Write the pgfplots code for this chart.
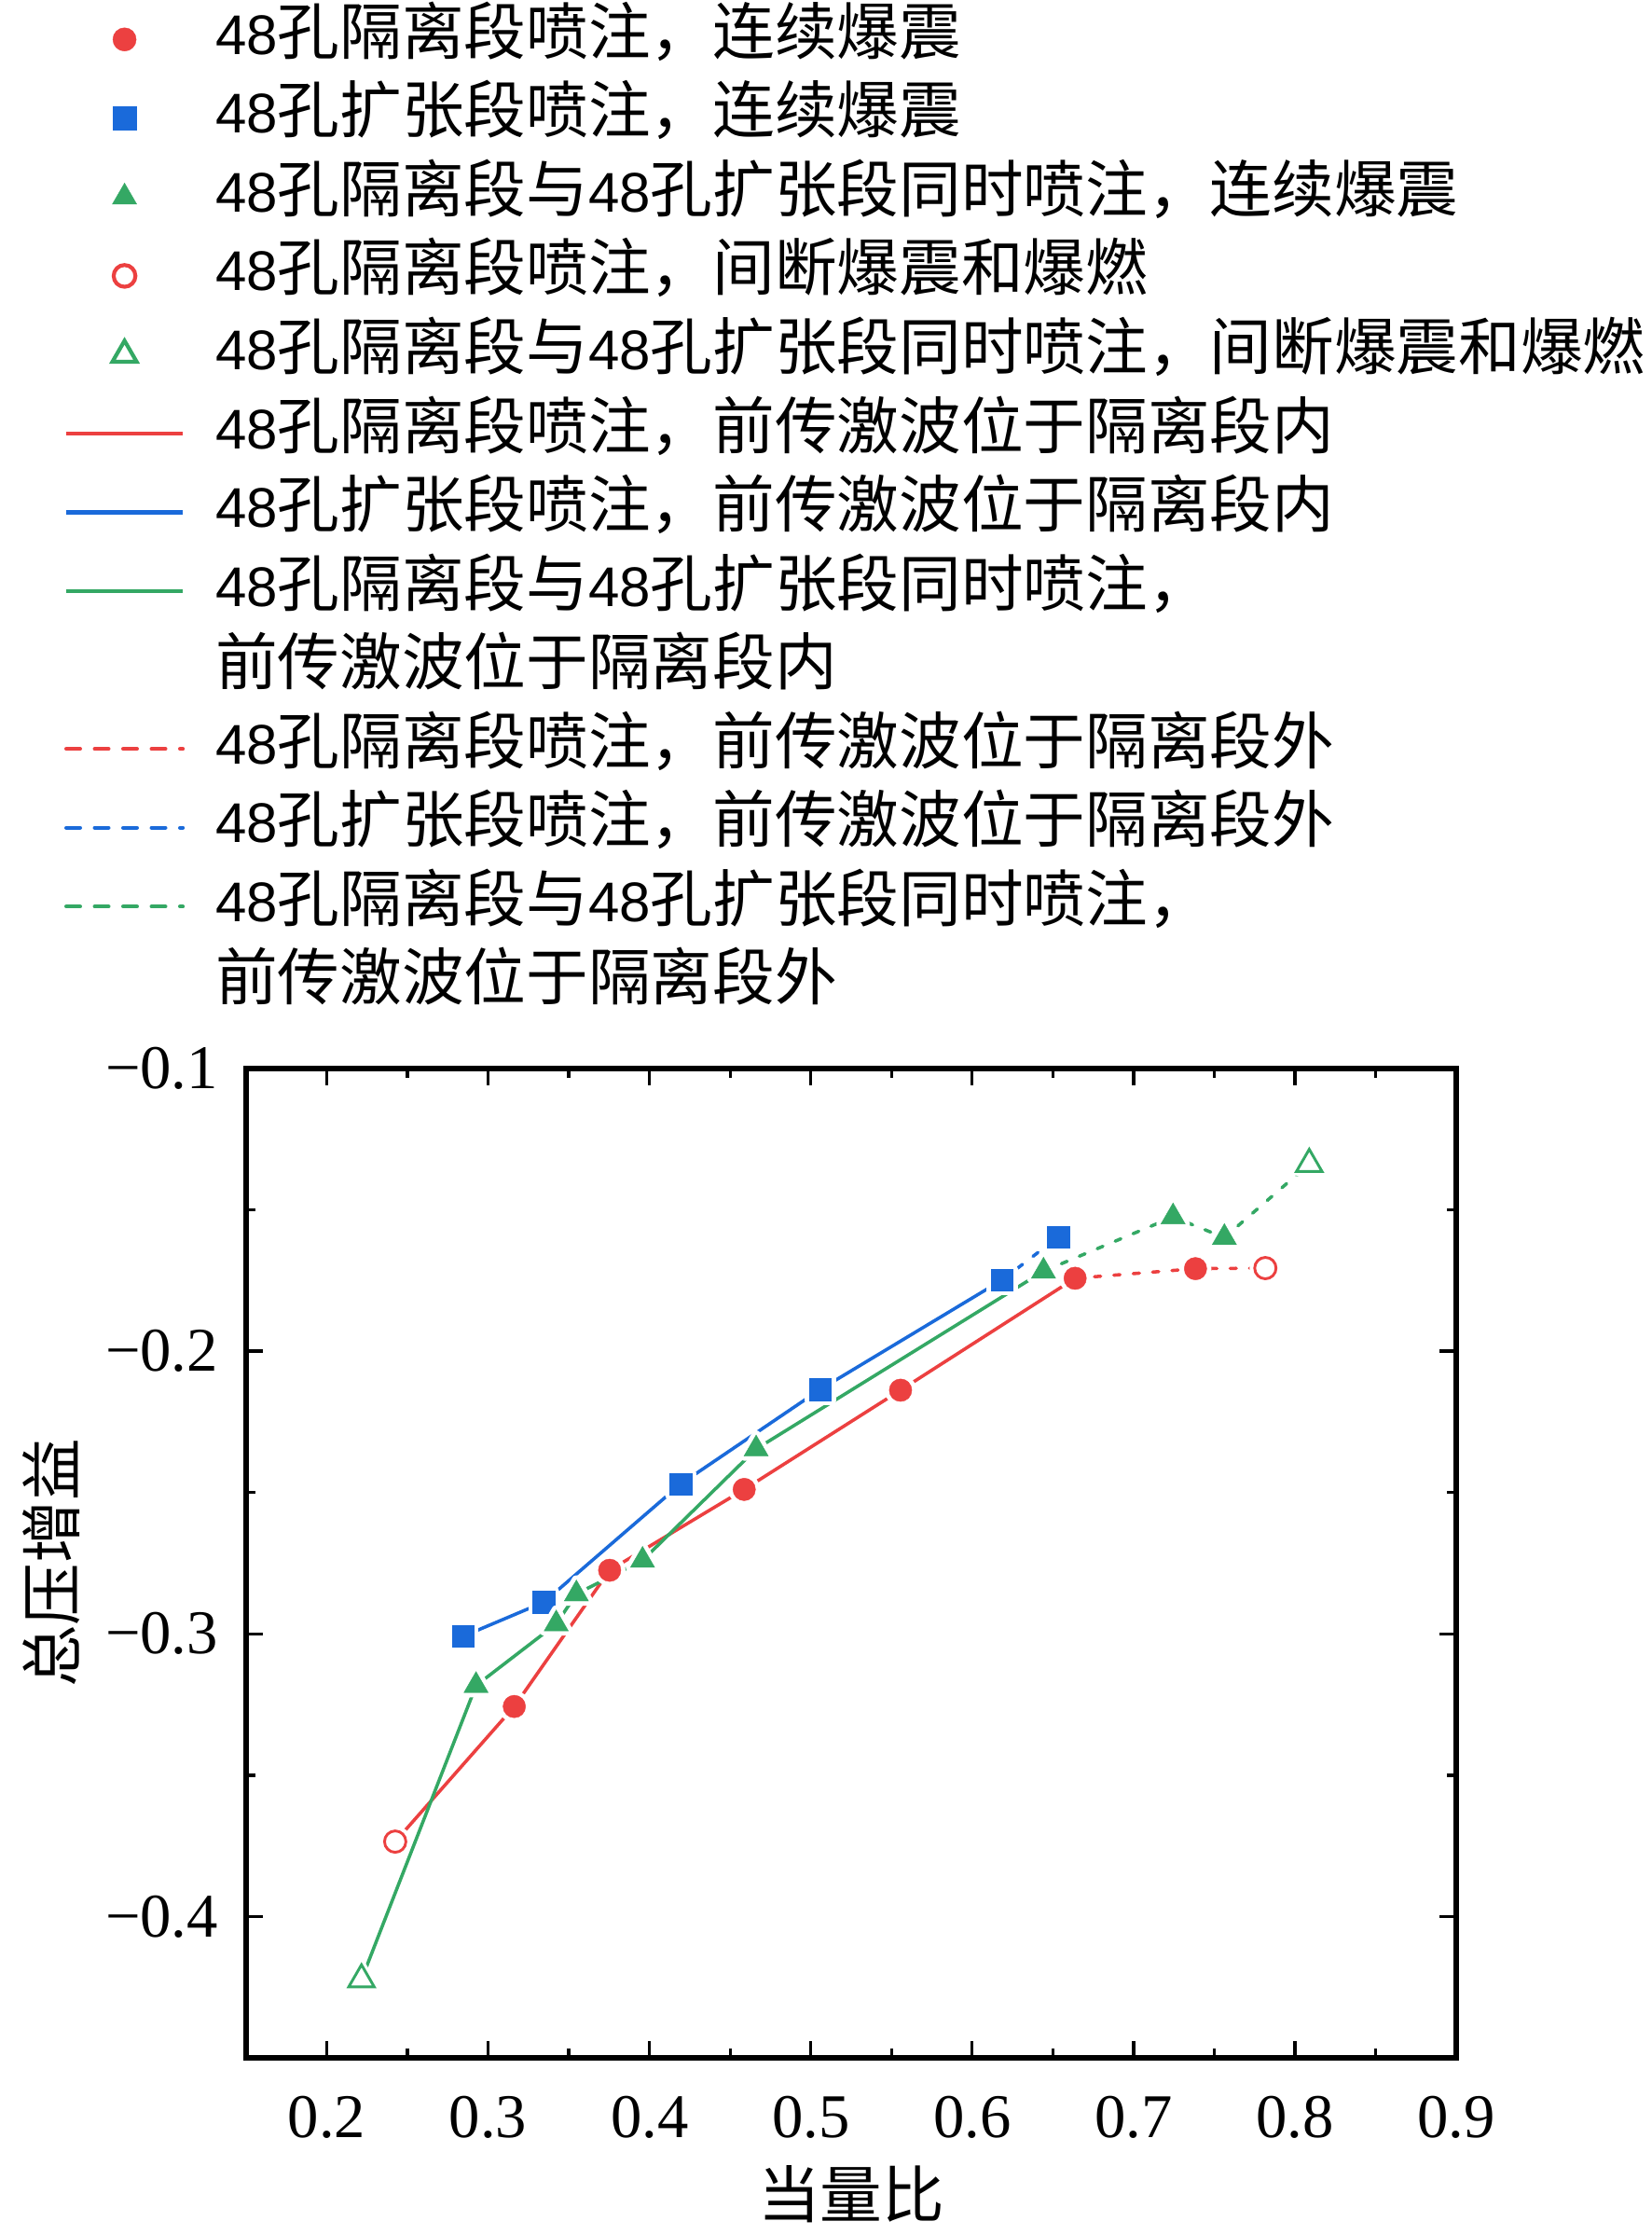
\documentclass[border=0pt]{standalone}
\usepackage{fontspec}
\setmainfont{Liberation Serif}
\newfontfamily\cjk{Noto Sans CJK SC}
\newfontfamily\dig[Scale=0.9]{Liberation Sans}
\newcommand\zh[1]{{\cjk #1}}
\newcommand\ff{{\dig 48}}
\usepackage{pgfplots}
\pgfplotsset{compat=1.18}
\definecolor{cred}{RGB}{236,64,64}
\definecolor{cblue}{RGB}{26,106,218}
\definecolor{cgreen}{RGB}{52,168,100}
\newcommand\fs{\fontsize{16pt}{19pt}\selectfont}
\pgfplotsset{halo/.style={only marks, forget plot, white, mark options={draw=white, fill=white, line width=2.4pt, line join=round, solid}}}
\begin{document}
\fs
\begin{tikzpicture}
\path[use as bounding box] (-63.36pt,-45.6pt) rectangle (361.92pt,529.68pt);
\begin{axis}[
  scale only axis, width=311.52pt, height=254.64pt,
  xmin=0.15, xmax=0.9, ymin=-0.45, ymax=-0.1,
  xtick={0.2,0.3,0.4,0.5,0.6,0.7,0.8,0.9},
  xticklabels={0.2,0.3,0.4,0.5,0.6,0.7,0.8,0.9},
  ytick={-0.4,-0.3,-0.2,-0.1},
  yticklabels={−0.4,−0.3,−0.2,−0.1},
  minor x tick num=1, minor y tick num=1,
  tick align=inside,
  major tick length=4.4pt, minor tick length=2.3pt,
  every tick/.style={black, line width=0.8pt},
  axis line style={line width=1.3pt},
  tick label style={font=\fs},
  label style={font=\fs},
  xticklabel style={inner sep=0pt, yshift=-9.6pt},
  yticklabel style={inner sep=0pt, xshift=-7.0pt},
  xlabel={\zh{当量比}}, ylabel={\zh{总压增益}},
  xlabel style={at={(axis description cs:0.5,-0.1621)}, anchor=base, inner sep=0pt},
  ylabel style={at={(axis description cs:-0.161,0.5)}, anchor=center, inner sep=0pt},
  legend style={at={(axis description cs:-0.15023,2.0801)}, anchor=north west,
    draw=none, fill=none, inner sep=0pt, outer sep=0pt, row sep=0pt, column sep=7.9pt,
    font=\fs\cjk, nodes={inner sep=0pt, text height=14pt, text depth=6.29pt}},
  legend cell align=left,
  legend image code/.code={\draw[mark repeat=2,mark phase=2,#1] plot coordinates {(0pt,0pt)(15pt,0pt)(30pt,0pt)};},
]
% ---- lines ----
\addplot[cred, line width=0.85pt, forget plot] coordinates {
 (0.2424,-0.3735) (0.3162,-0.3257) (0.3753,-0.2775) (0.4587,-0.2489) (0.5556,-0.2138) (0.6638,-0.1742)};
\addplot[cred, line width=0.85pt, dash pattern=on 1.6pt off 3.4pt, line cap=round, forget plot] coordinates {
 (0.6638,-0.1742) (0.7384,-0.1708) (0.7817,-0.1706)};
\addplot[cblue, line width=0.85pt, forget plot] coordinates {
 (0.2844,-0.3009) (0.3345,-0.2888) (0.4193,-0.2470) (0.5059,-0.2135) (0.6186,-0.1748)};
\addplot[cblue, line width=0.85pt, dash pattern=on 1.6pt off 3.4pt, line cap=round, forget plot] coordinates {
 (0.6186,-0.1748) (0.6533,-0.1596)};
\addplot[cgreen, line width=0.85pt, forget plot] coordinates {
 (0.2215,-0.4223) (0.2925,-0.3183) (0.3422,-0.2965) (0.3547,-0.2859) (0.3957,-0.2740) (0.4661,-0.2346) (0.6442,-0.1717)};
\addplot[cgreen, line width=0.85pt, dash pattern=on 1.6pt off 3.4pt, line cap=round, forget plot] coordinates {
 (0.6442,-0.1717) (0.7245,-0.1525) (0.7563,-0.1598) (0.8089,-0.1338)};
% ---- red marks ----
\addplot[halo, mark=*, mark size=2.9pt] coordinates {
 (0.2424,-0.3735) (0.3162,-0.3257) (0.3753,-0.2775) (0.4587,-0.2489) (0.5556,-0.2138) (0.6638,-0.1742) (0.7384,-0.1708) (0.7817,-0.1706)};
\addplot[only marks, forget plot, mark=*, mark size=2.9pt, cred, mark options={fill=cred, line width=0.1pt}] coordinates {
 (0.3162,-0.3257) (0.3753,-0.2775) (0.4587,-0.2489) (0.5556,-0.2138) (0.6638,-0.1742) (0.7384,-0.1708)};
\addplot[only marks, forget plot, mark=*, mark size=2.75pt, cred, mark options={fill=white, line width=0.7pt}] coordinates {
 (0.2424,-0.3735) (0.7817,-0.1706)};
% ---- blue marks ----
\addplot[halo, mark=square*, mark size=2.8pt] coordinates {
 (0.2844,-0.3009) (0.3345,-0.2888) (0.4193,-0.2470) (0.5059,-0.2135) (0.6186,-0.1748) (0.6533,-0.1596)};
\addplot[only marks, forget plot, mark=square*, mark size=2.8pt, cblue, mark options={fill=cblue, line width=0.1pt}] coordinates {
 (0.2844,-0.3009) (0.3345,-0.2888) (0.4193,-0.2470) (0.5059,-0.2135) (0.6186,-0.1748) (0.6533,-0.1596)};
% ---- green marks ----
\addplot[halo, mark=triangle*, mark size=3.6pt] coordinates {
 (0.2215,-0.4223) (0.2925,-0.3183) (0.3422,-0.2965) (0.3547,-0.2859) (0.3957,-0.2740) (0.4661,-0.2346) (0.6442,-0.1717) (0.7245,-0.1525) (0.7563,-0.1598) (0.8089,-0.1338)};
\addplot[only marks, forget plot, mark=triangle*, mark size=3.6pt, cgreen, mark options={fill=cgreen, line width=0.1pt}] coordinates {
 (0.2925,-0.3183) (0.3422,-0.2965) (0.3547,-0.2859) (0.3957,-0.2740) (0.4661,-0.2346) (0.6442,-0.1717) (0.7245,-0.1525) (0.7563,-0.1598)};
\addplot[only marks, forget plot, mark=triangle*, mark size=3.8pt, cgreen, mark options={fill=white, line width=0.7pt}] coordinates {
 (0.2215,-0.4223) (0.8089,-0.1338)};
% ---- legend ----
\addlegendimage{only marks, mark=*, mark size=3pt, cred, mark options={fill=cred, line width=0.1pt}}
\addlegendentry{\ff 孔隔离段喷注，连续爆震}
\addlegendimage{only marks, mark=square*, mark size=3pt, cblue, mark options={fill=cblue, line width=0.1pt}}
\addlegendentry{\ff 孔扩张段喷注，连续爆震}
\addlegendimage{only marks, mark=triangle*, mark size=3.6pt, cgreen, mark options={fill=cgreen, line width=0.1pt}}
\addlegendentry{\ff 孔隔离段与\ff 孔扩张段同时喷注，连续爆震}
\addlegendimage{only marks, mark=*, mark size=2.8pt, cred, mark options={fill=white, line width=1pt}}
\addlegendentry{\ff 孔隔离段喷注，间断爆震和爆燃}
\addlegendimage{only marks, mark=triangle*, mark size=3.6pt, cgreen, mark options={fill=white, line width=1pt}}
\addlegendentry{\ff 孔隔离段与\ff 孔扩张段同时喷注，间断爆震和爆燃}
\addlegendimage{cred, line width=1pt}
\addlegendentry{\ff 孔隔离段喷注，前传激波位于隔离段内}
\addlegendimage{cblue, line width=1pt}
\addlegendentry{\ff 孔扩张段喷注，前传激波位于隔离段内}
\addlegendimage{cgreen, line width=1pt}
\addlegendentry{\ff 孔隔离段与\ff 孔扩张段同时喷注，}
\addlegendimage{empty legend}
\addlegendentry{前传激波位于隔离段内}
\addlegendimage{cred, line width=1pt, dash pattern=on 3.56pt off 3.76pt, line cap=round}
\addlegendentry{\ff 孔隔离段喷注，前传激波位于隔离段外}
\addlegendimage{cblue, line width=1pt, dash pattern=on 3.56pt off 3.76pt, line cap=round}
\addlegendentry{\ff 孔扩张段喷注，前传激波位于隔离段外}
\addlegendimage{cgreen, line width=1pt, dash pattern=on 3.56pt off 3.76pt, line cap=round}
\addlegendentry{\ff 孔隔离段与\ff 孔扩张段同时喷注，}
\addlegendimage{empty legend}
\addlegendentry{前传激波位于隔离段外}
\end{axis}
\end{tikzpicture}
\end{document}
